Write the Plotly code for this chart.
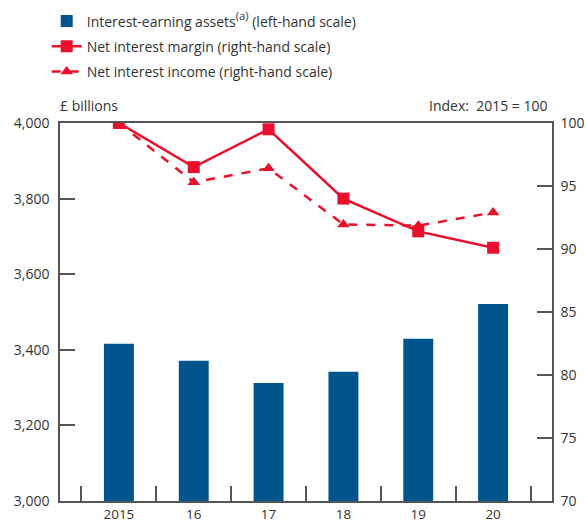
import plotly.graph_objects as go

years = ["2015", "16", "17", "18", "19", "20"]
assets = [3416, 3371, 3312, 3342, 3429, 3521]
nim = [100, 96.5, 99.5, 94.0, 91.4, 90.1]
nii = [100, 95.3, 96.4, 91.95, 91.85, 92.9]

RED = "#e8102b"
BLUE = "#00558c"
AX = "#555555"
FONT = "Open Sans"

fig = go.Figure()
fig.add_trace(go.Bar(x=years, y=assets,
                     name="Interest-earning assets<span style='font-size:16px'><sup>(a)</sup></span> (left-hand scale)",
                     marker=dict(color=BLUE, line=dict(width=0)), width=0.4, yaxis="y",
                     legendgroup="a"))
fig.add_trace(go.Scatter(x=years, y=nim, name="Net interest margin (right-hand scale)", mode="lines+markers",
                         line=dict(color=RED, width=2.5), marker=dict(symbol="square", size=12, color=RED),
                         yaxis="y2", legendgroup="b"))
fig.add_trace(go.Scatter(x=years, y=nii, name="Net interest income (right-hand scale)", mode="lines+markers",
                         line=dict(color=RED, width=2.5, dash="dash"),
                         marker=dict(symbol="triangle-up", size=11, color=RED), yaxis="y2",
                         legendgroup="c"))

fig.update_layout(
    width=586, height=523,
    margin=dict(l=60, r=34, t=123, b=22, autoexpand=False),
    paper_bgcolor="white", plot_bgcolor="white",
    font=dict(family=FONT, size=14, color="#333333"),
    showlegend=True,
    legend=dict(x=-0.027, y=1.311, xanchor="left", yanchor="top", traceorder="grouped",
                itemwidth=30, font=dict(size=14, color="#333333"), tracegroupgap=4,
                bgcolor="rgba(0,0,0,0)"),
    xaxis=dict(type="category", range=[-0.787, 5.787], showline=True, linecolor=AX, linewidth=1.5,
               mirror=True, ticks="inside", ticklen=15, tickcolor=AX, tickwidth=1.5,
               tickson="boundaries", showgrid=False, zeroline=False, ticklabelstandoff=0,
               tickfont=dict(size=13.5)),
    yaxis=dict(range=[3000, 4000], tickvals=[3000, 3200, 3400, 3600, 3800, 4000],
               ticktext=["3,000", "3,200", "3,400", "3,600", "3,800", "4,000"],
               showline=True, linecolor=AX, linewidth=1.5, ticks="inside", ticklen=15,
               tickcolor=AX, tickwidth=1.5, showgrid=False, zeroline=False, ticklabelstandoff=6),
    yaxis2=dict(range=[70, 100], tickvals=[70, 75, 80, 85, 90, 95, 100], overlaying="y", side="right",
                showline=True, linecolor=AX, linewidth=1.5, ticks="inside", ticklen=15,
                tickcolor=AX, tickwidth=1.5, showgrid=False, zeroline=False, ticklabelstandoff=4),
    annotations=[
        dict(text="£ billions", xref="paper", yref="paper", x=-0.005, y=1.015, xanchor="left",
             yanchor="bottom", showarrow=False, font=dict(size=14)),
        dict(text="Index:  2015 = 100", xref="paper", yref="paper", x=0.995, y=1.015, xanchor="right",
             yanchor="bottom", showarrow=False, font=dict(size=14)),
    ],
)

fig.write_html("out.html", config={"displayModeBar": False},
               post_script="document.body.style.margin='0';document.body.style.overflow='hidden';")
